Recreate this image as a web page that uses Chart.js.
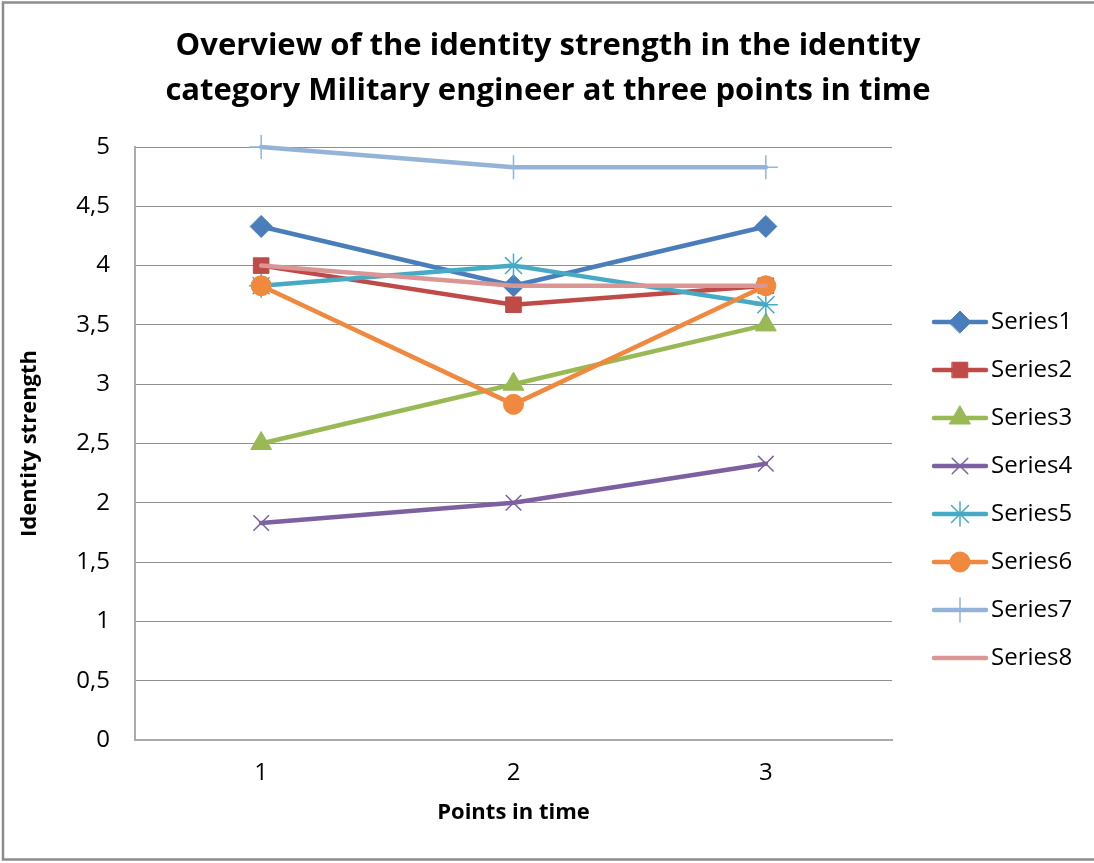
<!DOCTYPE html>
<html>
<head>
<meta charset="utf-8">
<script src="https://cdn.jsdelivr.net/npm/chart.js@4/dist/chart.umd.min.js"></script>
<style>
  html, body { margin: 0; padding: 0; background: #fff; }
  #wrap { position: relative; width: 1094px; height: 863px; }
  canvas { display: block; }
</style>
</head>
<body>
<div id="wrap"><canvas id="c" width="1094" height="863"></canvas></div>
<script>
// Chart text
const titleLines = [
  'Overview of the identity strength in the identity',
  'category Military engineer at three points in time'
];
const xTitle = 'Points in time';
const yTitle = 'Identity strength';

// Categories (points in time)
const categories = ['1', '2', '3'];

// Identity strength per series at each point in time
const series1 = [4.33, 3.83, 4.33];
const series2 = [4.00, 3.67, 3.83];
const series3 = [2.50, 3.00, 3.50];
const series4 = [1.83, 2.00, 2.33];
const series5 = [3.83, 4.00, 3.67];
const series6 = [3.83, 2.83, 3.83];
const series7 = [5.00, 4.83, 4.83];
const series8 = [4.00, 3.83, 3.83];

const seriesNames = ['Series1', 'Series2', 'Series3', 'Series4', 'Series5', 'Series6', 'Series7', 'Series8'];
const seriesValues = [series1, series2, series3, series4, series5, series6, series7, series8];

// Y axis range
const yMin = 0, yMax = 5, yStep = 0.5;

const FONT = '"Open Sans", Lato, sans-serif';

const styles = [
  { color: '#4A7EBB', point: 'rectRot', radius: 11, bw: 1 },
  { color: '#BE4B48', point: 'rect',    radius: 11, bw: 1 },
  { color: '#98B954', point: 'triangle',radius: 12, bw: 1 },
  { color: '#7D60A0', point: 'crossRot',radius: 11, bw: 1.5 },
  { color: '#46AAC5', point: 'star',    radius: 12, bw: 1.5 },
  { color: '#F0883E', point: 'circle',  radius: 10, bw: 1 },
  { color: '#95B3D7', point: 'cross',   radius: 12, bw: 1.5 },
  { color: '#D99694', point: false,     radius: 0,  bw: 0 }
];

const datasets = seriesValues.map((vals, i) => ({
  label: seriesNames[i],
  data: vals,
  borderColor: styles[i].color,
  backgroundColor: styles[i].color,
  pointBackgroundColor: styles[i].color,
  pointBorderColor: styles[i].color,
  pointStyle: styles[i].point,
  pointRadius: styles[i].radius,
  pointHoverRadius: styles[i].radius,
  pointBorderWidth: styles[i].bw,
  borderWidth: 4.5,
  borderCapStyle: 'round',
  borderJoinStyle: 'round',
  tension: 0,
  clip: false,
  order: seriesNames.length - 1 - i
}));

// Frame, titles and legend drawn around the plot
const decorations = {
  id: 'decorations',
  beforeDraw(chart) {
    const ctx = chart.ctx;
    ctx.save();
    ctx.fillStyle = '#fff';
    ctx.fillRect(0, 0, chart.width, chart.height);
    ctx.strokeStyle = '#8c8c8c';
    ctx.lineWidth = 2.5;
    ctx.beginPath();
    ctx.moveTo(chart.width + 2, 2.5);
    ctx.lineTo(3, 2.5);
    ctx.lineTo(3, 859.5);
    ctx.lineTo(chart.width + 2, 859.5);
    ctx.stroke();
    ctx.restore();
  },
  afterDraw(chart) {
    const ctx = chart.ctx;
    const area = chart.chartArea;
    ctx.save();
    ctx.fillStyle = '#000';
    ctx.textAlign = 'center';
    ctx.textBaseline = 'middle';
    ctx.font = 'bold 31px ' + FONT;
    ctx.fillText(titleLines[0], 548, 46);
    ctx.fillText(titleLines[1], 548, 91);

    ctx.font = 'bold 22px ' + FONT;
    ctx.fillText(xTitle, (area.left + area.right) / 2, 813);
    ctx.save();
    ctx.translate(30, (area.top + area.bottom) / 2);
    ctx.rotate(-Math.PI / 2);
    ctx.fillText(yTitle, 0, 0);
    ctx.restore();

    // Legend
    ctx.font = '24px ' + FONT;
    ctx.textAlign = 'left';
    chart.data.datasets.forEach((ds, i) => {
      const y = 322 + i * 48;
      ctx.strokeStyle = ds.borderColor;
      ctx.lineWidth = 4.5;
      ctx.lineCap = 'round';
      ctx.beginPath();
      ctx.moveTo(934, y);
      ctx.lineTo(986, y);
      ctx.stroke();
      if (ds.pointStyle) {
        ctx.fillStyle = ds.pointBackgroundColor;
        ctx.strokeStyle = ds.pointBorderColor;
        ctx.lineWidth = ds.pointBorderWidth;
        Chart.helpers.drawPoint(ctx, {
          pointStyle: ds.pointStyle,
          radius: ds.pointRadius,
          borderWidth: ds.pointBorderWidth,
          rotation: 0
        }, 960, y);
      }
      ctx.fillStyle = '#000';
      ctx.fillText(ds.label, 991, y);
    });
    ctx.restore();
  }
};

new Chart(document.getElementById('c'), {
  type: 'line',
  data: { labels: categories, datasets },
  options: {
    responsive: false,
    animation: false,
    events: [],
    layout: { padding: { left: 0, top: 147, right: 202, bottom: 63 } },
    plugins: {
      legend: { display: false },
      title: { display: false },
      tooltip: { enabled: false }
    },
    scales: {
      x: {
        offset: true,
        grid: { display: false, drawTicks: false },
        border: { display: true, color: '#ababab', width: 2 },
        ticks: { color: '#000', font: { family: FONT, size: 24 }, padding: 19 },
        afterFit(scale) { scale.height = 60; }
      },
      y: {
        min: yMin,
        max: yMax,
        grid: { color: '#8f8f8f', lineWidth: 1, drawTicks: false },
        border: { display: true, color: '#ababab', width: 2 },
        ticks: {
          stepSize: yStep,
          color: '#000',
          font: { family: FONT, size: 24 },
          padding: 25,
          callback: v => String(v).replace('.', ',')
        },
        afterFit(scale) { scale.width = 135; }
      }
    }
  },
  plugins: [decorations]
});
</script>
</body>
</html>
